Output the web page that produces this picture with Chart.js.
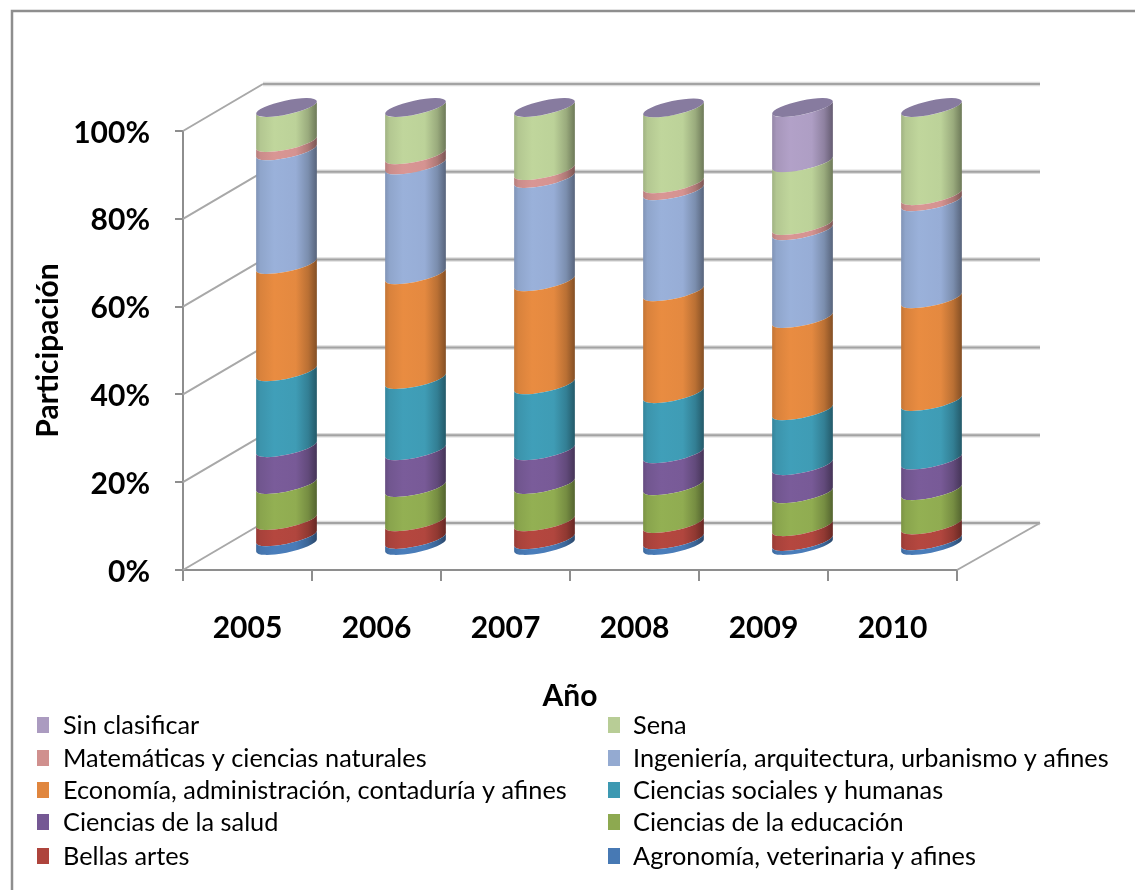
<!DOCTYPE html>
<html>
<head>
<meta charset="utf-8">
<title>Participación por año</title>
<script src="https://cdn.jsdelivr.net/npm/chart.js@4"></script>
<style>
  html, body { margin: 0; padding: 0; background: #fff; }
  canvas { display: block; filter: blur(0.5px); }
</style>
</head>
<body>
<canvas id="chart" width="1135" height="890"></canvas>
<script>
// Values (% of each year)
const years = ['2005', '2006', '2007', '2008', '2009', '2010'];

const agronomia    = [2.2, 1.6, 1.5, 1.5, 1.1, 1.3];
const bellasArtes  = [3.7, 4.0, 4.1, 3.7, 3.4, 3.6];
const educacion    = [8.2, 7.8, 8.5, 8.6, 7.5, 7.8];
const salud        = [8.4, 8.4, 7.7, 7.3, 6.4, 7.0];
const sociales     = [17.3, 16.2, 15.0, 13.7, 12.5, 13.3];
const economia     = [24.4, 23.9, 23.5, 23.2, 21.0, 23.4];
const ingenieria   = [25.9, 25.0, 23.5, 23.0, 20.0, 22.1];
const matematicas  = [1.9, 2.3, 1.8, 1.6, 1.2, 1.4];
const sena         = [8.0, 10.8, 14.4, 17.3, 14.3, 20.1];
const sinClasificar = [0, 0, 0, 0, 12.6, 0];

const seriesValues = [agronomia, bellasArtes, educacion, salud, sociales,
                      economia, ingenieria, matematicas, sena, sinClasificar];
const seriesNames = [
  'Agronomía, veterinaria y afines',
  'Bellas artes',
  'Ciencias de la educación',
  'Ciencias de la salud',
  'Ciencias sociales y humanas',
  'Economía, administración, contaduría y afines',
  'Ingeniería, arquitectura, urbanismo y afines',
  'Matemáticas y ciencias naturales',
  'Sena',
  'Sin clasificar',
];
const seriesColors = ['#4a7ebb', '#b5473f', '#93b053', '#7a5c9a', '#409fb9',
                      '#e98c41', '#9ab1da', '#d99694', '#c0d69c', '#b2a1c8'];

// 3D look
const DEPTH_X = 80, DEPTH_Y = 47;        // floor depth in px
const ELLIPSE_B = 7, ELLIPSE_TILT = -12 * Math.PI / 180;
const AXIS_GRAY = '#8e8e8e';
const FONT = 'Lato, Carlito, sans-serif';

function shade(hex, f) {
  const n = parseInt(hex.slice(1), 16);
  const c = [n >> 16, (n >> 8) & 255, n & 255].map(v => Math.round(v * f));
  return `rgb(${c[0]},${c[1]},${c[2]})`;
}

const cylinders = {
  id: 'cylinders',

  // Lato sits a bit high on its middle baseline, nudge the y labels down
  afterLayout(chart) {
    chart.scales.y.getLabelItems(chart.chartArea).forEach(item => {
      item.options.translation[1] += 2;
    });
  },

  beforeDraw(chart) {
    const ctx = chart.ctx;
    // frame, only top and left in the picture
    ctx.save();
    ctx.strokeStyle = AXIS_GRAY;
    ctx.lineWidth = 2.5;
    ctx.beginPath();
    ctx.moveTo(12, 890);
    ctx.lineTo(12, 11);
    ctx.lineTo(1135, 11);
    ctx.stroke();
    ctx.restore();
  },

  beforeDatasetsDraw(chart) {
    const { ctx, chartArea: a, scales: { y } } = chart;
    ctx.save();
    y.ticks.forEach(t => {
      const py = y.getPixelForValue(t.value);
      // back wall line, soft halo then core
      ctx.lineWidth = 4.5;
      ctx.strokeStyle = '#dcdcdc';
      ctx.beginPath();
      ctx.moveTo(a.left + DEPTH_X, py - DEPTH_Y);
      ctx.lineTo(a.right + DEPTH_X + 3, py - DEPTH_Y);
      ctx.stroke();
      ctx.lineWidth = 2;
      ctx.strokeStyle = '#a3a3a3';
      ctx.stroke();
      // side wall
      ctx.strokeStyle = '#a8a8a8';
      ctx.beginPath();
      ctx.moveTo(a.left, py);
      ctx.lineTo(a.left + DEPTH_X, py - DEPTH_Y);
      ctx.stroke();
    });
    // floor, right edge
    ctx.beginPath();
    ctx.moveTo(a.right, a.bottom);
    ctx.lineTo(a.right + DEPTH_X + 3, a.bottom - DEPTH_Y);
    ctx.stroke();
    ctx.restore();
  },

  // every segment is the front of a cylinder, positions come from the bar elements
  beforeDatasetDraw(chart, args) {
    const ctx = chart.ctx;
    const color = seriesColors[args.index];
    ctx.save();
    args.meta.data.forEach(bar => {
      const cx = bar.x + DEPTH_X / 2 - 1;
      const r = bar.width / 2 + 0.5;
      const top = bar.y - DEPTH_Y / 2;
      const bottom = bar.base - DEPTH_Y / 2;
      const t0 = Math.atan2(-ELLIPSE_B * Math.sin(ELLIPSE_TILT), r * Math.cos(ELLIPSE_TILT));
      const g = ctx.createLinearGradient(cx - r, 0, cx + r, 0);
      g.addColorStop(0, shade(color, 0.82));
      g.addColorStop(0.08, shade(color, 0.93));
      g.addColorStop(0.3, shade(color, 1));
      g.addColorStop(0.65, shade(color, 0.98));
      g.addColorStop(0.85, shade(color, 0.8));
      g.addColorStop(1, shade(color, 0.55));
      ctx.fillStyle = g;
      ctx.beginPath();
      ctx.ellipse(cx, bottom, r, ELLIPSE_B, ELLIPSE_TILT, t0, t0 + Math.PI, false);
      ctx.ellipse(cx, top, r, ELLIPSE_B, ELLIPSE_TILT, t0 + Math.PI, t0, true);
      ctx.closePath();
      ctx.fill();
    });
    ctx.restore();
    return false;
  },

  afterDatasetsDraw(chart) {
    const ctx = chart.ctx;
    // top caps sit on the last stack value
    const last = chart.getDatasetMeta(seriesValues.length - 1);
    ctx.save();
    ctx.fillStyle = '#877b9f';
    last.data.forEach(bar => {
      ctx.beginPath();
      ctx.ellipse(bar.x + DEPTH_X / 2 - 1, bar.y - DEPTH_Y / 2, bar.width / 2 + 0.5, ELLIPSE_B, ELLIPSE_TILT, 0, Math.PI * 2);
      ctx.fill();
    });
    ctx.restore();
  },

  afterDraw(chart) {
    const ctx = chart.ctx;
    const columns = [37, 608];
    const rows = [725, 758, 790, 822, 856];
    ctx.save();
    ctx.font = `25.3px ${FONT}`;
    ctx.textBaseline = 'middle';
    ctx.textAlign = 'left';
    // legend runs from the last series to the first, two per row
    for (let i = 0; i < seriesNames.length; i++) {
      const s = seriesNames.length - 1 - i;
      const x = columns[i % 2];
      const y = rows[Math.floor(i / 2)];
      ctx.fillStyle = shade(seriesColors[s], 0.96);
      ctx.fillRect(x, y - 8, 12, 16);
      ctx.fillStyle = '#000';
      ctx.fillText(seriesNames[s], x + (i % 2 ? 25 : 26), y + 1);
    }
    ctx.restore();
  },
};

new Chart(document.getElementById('chart').getContext('2d'), {
  type: 'bar',
  data: {
    labels: years,
    datasets: seriesNames.map((name, i) => ({
      label: name,
      data: seriesValues[i],
      backgroundColor: seriesColors[i],
    })),
  },
  options: {
    responsive: false,
    animation: false,
    barPercentage: 61 / 129,
    categoryPercentage: 1,
    layout: { padding: { top: 131, right: 178, left: 0, bottom: 0 } },
    plugins: { legend: { display: false }, tooltip: { enabled: false } },
    scales: {
      x: {
        stacked: true,
        afterFit: s => { s.height = 320; },
        grid: { drawOnChartArea: false, offset: true, color: AXIS_GRAY, lineWidth: 2, tickLength: 11 },
        border: { color: AXIS_GRAY, width: 2 },
        ticks: { color: '#000', padding: 29, maxRotation: 0, font: { family: FONT, size: 30, weight: 'bold' } },
        title: {
          display: true,
          text: 'Año',
          color: '#000',
          font: { family: FONT, size: 30, weight: 'bold' },
          padding: { top: 0, bottom: 176 },
        },
      },
      y: {
        stacked: true,
        min: 0,
        max: 100,
        afterFit: s => { s.width = 183; },
        grid: { drawOnChartArea: false, color: AXIS_GRAY, lineWidth: 2, tickLength: 8 },
        border: { color: AXIS_GRAY, width: 2 },
        ticks: {
          stepSize: 20,
          color: '#000',
          padding: 25,
          callback: v => v + '%',
          font: { family: FONT, size: 30, weight: 'bold' },
        },
        title: {
          display: true,
          text: 'Participación',
          color: '#000',
          font: { family: FONT, size: 30, weight: 'bold' },
          padding: { top: 30, bottom: 0 },
        },
      },
    },
  },
  plugins: [cylinders],
});
</script>
</body>
</html>
